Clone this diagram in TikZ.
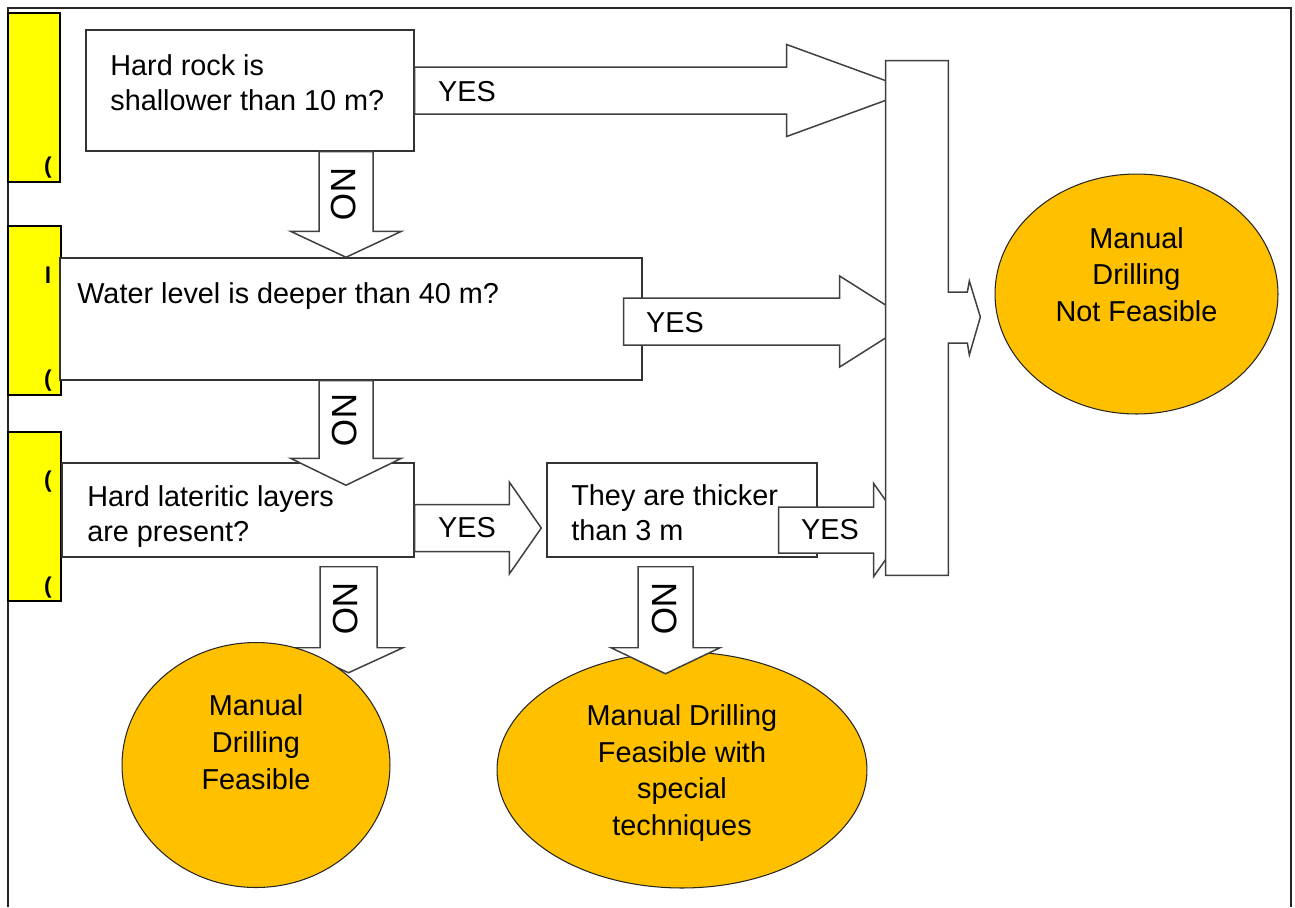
\documentclass[tikz,border=0pt]{standalone}
\usepackage{fontspec}
\setmainfont{Liberation Sans}
\usetikzlibrary{calc, shapes.geometric}

\definecolor{tabyellow}{HTML}{FFFF00}
\definecolor{endgold}{HTML}{FFC000}

\newcommand{\qfont}{\fontsize{16.4}{20}\selectfont}
\newcommand{\efont}{\fontsize{16.4}{21}\selectfont}
\newcommand{\nofont}{\fontsize{20}{24}\selectfont}

% block arrow: start, tip, shaft half width, head half width, head length
\newcommand{\blockright}[5]{%
  \draw[blk] ($(#1)+(0,-#3)$) -- ($(#2)+(-#5,-#3)$) -- ($(#2)+(-#5,-#4)$) -- (#2)
    -- ($(#2)+(-#5,#4)$) -- ($(#2)+(-#5,#3)$) -- ($(#1)+(0,#3)$) -- cycle;}
\newcommand{\blockdown}[5]{%
  \draw[blk] ($(#1)+(-#3,0)$) -- ($(#2)+(-#3,-#5)$) -- ($(#2)+(-#4,-#5)$) -- (#2)
    -- ($(#2)+(#4,-#5)$) -- ($(#2)+(#3,-#5)$) -- ($(#1)+(#3,0)$) -- cycle;}

\begin{document}
\begin{tikzpicture}[
        x=0.02cm, y=-0.02cm,
        tab/.style={
            rectangle,
            draw=black,
            fill=tabyellow,
            line width=0.9pt,
            minimum width=1.05cm,
            minimum height=3.38cm,
            inner sep=0pt
        },
        cutmark/.style={inner sep=0pt, font=\fontsize{13}{14}\selectfont\bfseries},
        qbox/.style={
            rectangle,
            draw=black!80,
            fill=white,
            line width=0.85pt,
            inner sep=0pt
        },
        qtext/.style={anchor=north west, align=left, inner sep=0pt, font=\qfont},
        yeslbl/.style={inner sep=0pt, font=\qfont},
        nolbl/.style={inner sep=0pt, rotate=-90, font=\nofont},
        endnode/.style={
            ellipse,
            draw=black!85,
            fill=endgold,
            line width=0.6pt,
            align=center,
            inner sep=0pt,
            font=\efont
        },
        blk/.style={draw=black!75, fill=white, line width=0.85pt}
    ]
        \useasboundingbox (0,0) rectangle (1295,907);
        \draw[line width=1.1pt, black!85] (8,907) -- (8,8) -- (1291,8) -- (1291,907);

        \node[tab] (tb1) at (34,97.5) {};
        \node[tab] (tb2) at (34.5,310.5) {};
        \node[tab] (tb3) at (34.5,516.5) {};

        \node[cutmark] (mk1) at (48,168) {(};
        \node[cutmark] (mk2) at (48,275) {l};
        \node[cutmark] (mk3) at (48,381) {(};
        \node[cutmark] (mk4) at (48,482) {(};
        \node[cutmark] (mk5) at (48,588) {(};

        \node[qbox, minimum width=6.56cm, minimum height=2.42cm] (q1) at (250,90.5) {};
        \node[qbox, minimum width=11.64cm, minimum height=2.44cm] (q2) at (351,319) {};
        \node[qbox, minimum width=7.04cm, minimum height=1.88cm] (q3) at (238,510) {};
        \node[qbox, minimum width=5.4cm, minimum height=1.88cm] (q4) at (682,510) {};

        \node[qtext] (t1) at (110,54.3) {Hard rock is\\shallower than 10 m?};
        \node[qtext] (t2) at (77,282.3) {Water level is deeper than 40 m?};
        \node[qtext] (t3) at (87,485.3) {Hard lateritic layers\\are present?};
        \node[qtext] (t4) at (571,484.3) {They are thicker\\than 3 m};

        \node[minimum width=1.24cm, minimum height=10.28cm, inner sep=0pt] (bar) at (917,318) {};

        \coordinate (a1e) at ($(bar.west |- q1.east)+(27,0)$);
        \coordinate (a2s) at ($(q2.east)+(-19,2.5)$);
        \coordinate (a2e) at ($(bar.west |- a2s)+(26,0)$);
        \coordinate (a3s) at ($(q3.east)+(0,18)$);
        \coordinate (a3e) at ($(q4.west |- a3s)+(-5,0)$);
        \coordinate (a4s) at ($(q4.east)+(-39,20)$);
        \coordinate (a4e) at ($(bar.west |- a4s)+(21,0)$);

        \blockright{q1.east}{a1e}{23.5}{46}{126}
        \blockright{a2s}{a2e}{23.5}{45.5}{72}
        \blockright{a3s}{a3e}{23.5}{46}{32}
        \blockright{a4s}{a4e}{23}{46.5}{33}

        \coordinate (d1s) at ($(q1.south)+(96,0)$);
        \coordinate (d1e) at (d1s |- q2.north);
        \coordinate (d2s) at (d1s |- q2.south);
        \coordinate (d2e) at ($(d1s |- q3.north)+(0,23)$);
        \coordinate (d3s) at ($(q3.south)+(110.5,9)$);
        \coordinate (d3e) at ($(d3s)+(0,106)$);
        \coordinate (d4s) at ($(q4.south)+(-16.5,9)$);
        \coordinate (d4e) at ($(d4s)+(0,107)$);

        \blockdown{d1s}{d1e}{27}{55.5}{26}
        \blockdown{d2s}{d2e}{27}{55.5}{27}
        \blockdown{d3s}{d3e}{28.5}{54.5}{25}

        \node[endnode, minimum width=5.36cm, minimum height=4.9cm, text depth=0.92cm] (fe) at (256,765) {
            Manual\\Drilling\\Feasible
        };
        \node[endnode, minimum width=7.4cm, minimum height=4.72cm, text depth=0pt] (fs) at (682,770) {
            Manual Drilling\\Feasible with\\special\\techniques
        };
        \blockdown{d4s}{d4e}{27.5}{54.5}{26}

        \draw[blk] (bar.north west) -- (bar.north east) -- ($(bar.east)+(0,-26)$) -- ++(19,0) -- ++(2,-11)
            -- ++(11,36) -- ++(-11,38) -- ++(-2,-12) -- ++(-19,0) -- (bar.south east) -- (bar.south west) -- cycle;

        \node[endnode, minimum width=5.66cm, minimum height=4.8cm, text depth=0.78cm] (nf) at (1136.5,294) {
            Manual\\Drilling\\Not Feasible
        };

        \node[yeslbl] (y1) at (467,91.5) {YES};
        \node[yeslbl] (y2) at (675,323) {YES};
        \node[yeslbl] (y3) at (467,528) {YES};
        \node[yeslbl] (y4) at (830,530) {YES};

        \node[nolbl] (n1) at (344,194) {NO};
        \node[nolbl] (n2) at (345,420) {NO};
        \node[nolbl] (n3) at (346,608.5) {NO};
        \node[nolbl] (n4) at (665,608.5) {NO};
    \end{tikzpicture}
\end{document}
